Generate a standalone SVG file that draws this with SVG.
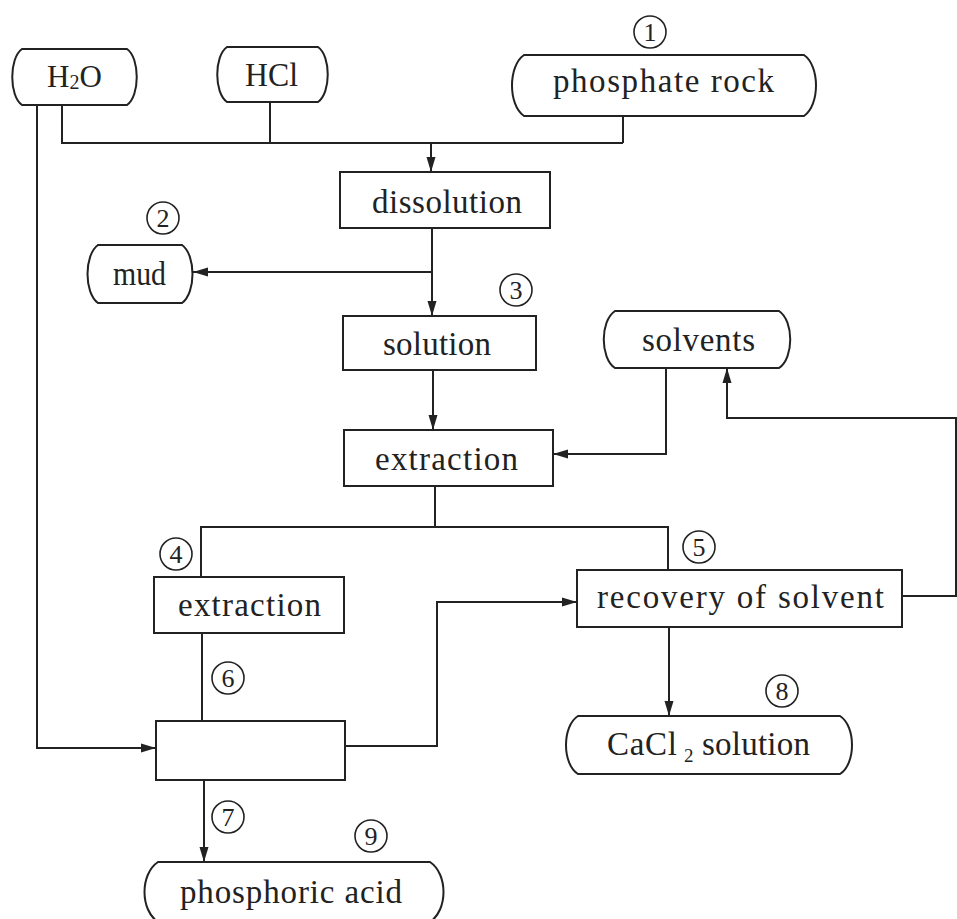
<svg xmlns="http://www.w3.org/2000/svg" width="957" height="919" viewBox="0 0 957 919">
<defs>
<marker id="ah" markerUnits="userSpaceOnUse" markerWidth="16" markerHeight="10" refX="15" refY="5" orient="auto">
<path d="M0,0.5 L15,5 L0,9.5 z" fill="#222"/>
</marker>
<style>
.box{fill:#fff;stroke:#222;stroke-width:2}
.term{fill:#fff;stroke:#222;stroke-width:2}
.ln{fill:none;stroke:#222;stroke-width:2}
.arr{fill:none;stroke:#222;stroke-width:2;marker-end:url(#ah)}
.num circle{fill:none;stroke:#222;stroke-width:1.6}
</style>
</defs>
<rect width="957" height="919" fill="#fff"/>

<g id="connectors">
<polyline class="ln" points="62,105 62,143 623,143"/>
<line class="ln" x1="270" y1="102" x2="270" y2="143"/>
<line class="ln" x1="623" y1="116" x2="623" y2="143"/>
<line class="arr" x1="431" y1="143" x2="431" y2="172"/>
<line class="arr" x1="432" y1="228" x2="432" y2="316"/>
<line class="arr" x1="432" y1="272" x2="193" y2="272"/>
<line class="arr" x1="433" y1="370" x2="433" y2="430"/>
<polyline class="arr" points="666,368 666,454 553,454"/>
<line class="ln" x1="435" y1="486" x2="435" y2="527"/>
<polyline class="ln" points="201,577 201,527 668,527 668,570"/>
<polyline class="arr" points="902,596 956,596 956,418 727,418 727,368"/>
<line class="ln" x1="202" y1="633" x2="202" y2="721"/>
<polyline class="arr" points="37,105 37,748 156,748"/>
<polyline class="arr" points="345,746 437,746 437,602 577,602"/>
<line class="arr" x1="204" y1="780" x2="204" y2="862"/>
<line class="arr" x1="669" y1="627" x2="669" y2="716"/>
</g>

<g font-family="'Liberation Serif', 'DejaVu Serif', serif" font-size="33" fill="#222">
<g id="h2o">
<path class="term" d="M22,49 H127 C140,58 140,96 127,105 H22 C9,96 9,58 22,49 Z"/>
<text x="47" y="87" font-size="31">H<tspan font-size="20" dy="2">2</tspan><tspan dy="-2">O</tspan></text>
</g>
<g id="hcl">
<path class="term" d="M227,47 H318 C331,56 331,93 318,102 H227 C214,93 214,56 227,47 Z"/>
<text x="245" y="86" textLength="53" lengthAdjust="spacingAndGlyphs">HCl</text>
</g>
<g id="phosphate-rock">
<path class="term" d="M524,55 H804 C820,66 820,105 804,116 H524 C508,105 508,66 524,55 Z"/>
<text x="553" y="92" textLength="221" lengthAdjust="spacing">phosphate rock</text>
</g>
<g id="n1" class="num"><circle cx="650" cy="32" r="16"/><text x="650" y="41" font-size="26" text-anchor="middle">1</text></g>

<g id="dissolution">
<rect class="box" x="340" y="172" width="210" height="56"/>
<text x="372" y="213" textLength="150" lengthAdjust="spacing">dissolution</text>
</g>
<g id="n2" class="num"><circle cx="163" cy="218" r="16"/><text x="163" y="227" font-size="26" text-anchor="middle">2</text></g>

<g id="mud">
<path class="term" d="M98,245 H182 C196,255 196,293 182,303 H98 C84,293 84,255 98,245 Z"/>
<text x="113" y="285" textLength="53" lengthAdjust="spacingAndGlyphs">mud</text>
</g>
<g id="n3" class="num"><circle cx="516" cy="290" r="16"/><text x="516" y="299" font-size="26" text-anchor="middle">3</text></g>

<g id="solution">
<rect class="box" x="343" y="316" width="193" height="54"/>
<text x="383" y="355" textLength="108" lengthAdjust="spacing">solution</text>
</g>

<g id="solvents">
<path class="term" d="M615,311 H779 C794,321 794,358 779,368 H615 C600,358 600,321 615,311 Z"/>
<text x="642" y="351" textLength="113" lengthAdjust="spacing">solvents</text>
</g>

<g id="extraction1">
<rect class="box" x="344" y="430" width="209" height="56"/>
<text x="375" y="470" textLength="143" lengthAdjust="spacing">extraction</text>
</g>

<g id="n4" class="num"><circle cx="176" cy="554" r="16"/><text x="176" y="563" font-size="26" text-anchor="middle">4</text></g>
<g id="n5" class="num"><circle cx="699" cy="547" r="16"/><text x="699" y="556" font-size="26" text-anchor="middle">5</text></g>

<g id="extraction2">
<rect class="box" x="154" y="577" width="190" height="56"/>
<text x="178" y="616" textLength="143" lengthAdjust="spacing">extraction</text>
</g>

<g id="recovery">
<rect class="box" x="577" y="570" width="325" height="57"/>
<text x="597" y="608" textLength="287" lengthAdjust="spacing">recovery of solvent</text>
</g>

<g id="n6" class="num"><circle cx="228" cy="678" r="16"/><text x="228" y="687" font-size="26" text-anchor="middle">6</text></g>

<g id="blank-step">
<rect class="box" x="156" y="721" width="189" height="59"/>
</g>

<g id="n8" class="num"><circle cx="782" cy="691" r="16"/><text x="782" y="700" font-size="26" text-anchor="middle">8</text></g>

<g id="cacl2">
<path class="term" d="M578,716 H840 C856,726 856,764 840,774 H578 C562,764 562,726 578,716 Z"/>
<text y="755"><tspan x="607" textLength="70" lengthAdjust="spacing">CaCl</tspan><tspan x="684" y="762" font-size="19">2</tspan><tspan x="702" y="755" textLength="108" lengthAdjust="spacing">solution</tspan></text>
</g>

<g id="n7" class="num"><circle cx="228" cy="817" r="16"/><text x="228" y="826" font-size="26" text-anchor="middle">7</text></g>
<g id="n9" class="num"><circle cx="371" cy="836" r="16"/><text x="371" y="845" font-size="26" text-anchor="middle">9</text></g>

<g id="phosphoric-acid">
<path class="term" d="M158,862 H430 C448,874 448,910 430,922 H158 C140,910 140,874 158,862 Z"/>
<text x="180" y="903" textLength="222" lengthAdjust="spacing">phosphoric acid</text>
</g>
</g>
</svg>
